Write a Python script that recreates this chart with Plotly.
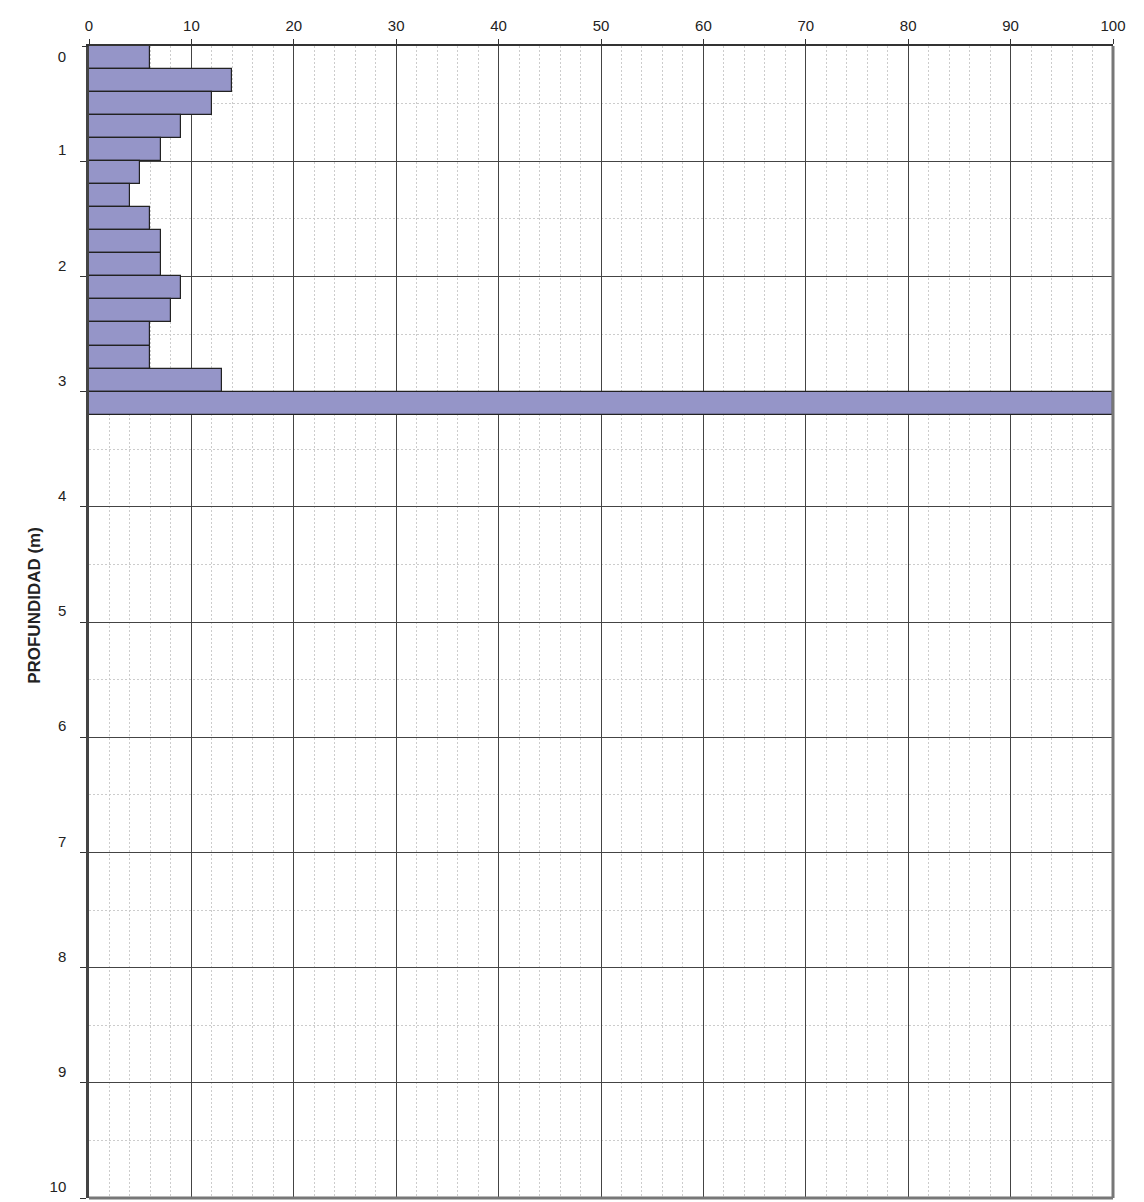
import plotly.graph_objects as go

depth_top = [0.0, 0.2, 0.4, 0.6, 0.8, 1.0, 1.2, 1.4, 1.6, 1.8, 2.0, 2.2, 2.4, 2.6, 2.8, 3.0]
blows = [6, 14, 12, 9, 7, 5, 4, 6, 7, 7, 9, 8, 6, 6, 13, 100]
layer = 0.2
x_ticks = [0, 10, 20, 30, 40, 50, 60, 70, 80, 90, 100]
y_ticks = [1, 2, 3, 4, 5, 6, 7, 8, 9, 10]

mids = [d + layer / 2 for d in depth_top]

fig = go.Figure()
fig.add_trace(go.Bar(
    x=blows, y=mids, width=[layer] * len(blows), orientation="h",
    marker=dict(color="#9595C8", line=dict(color="#222222", width=1.2)),
    showlegend=False, hoverinfo="skip",
))
fig.add_trace(go.Scatter(x=[None], y=[None], yaxis="y2", showlegend=False))

font = dict(family="Liberation Sans, Arial, sans-serif", size=15, color="#222222")
minor_grid = dict(showgrid=True, gridcolor="#cccccc", griddash="2px,2px", gridwidth=1)

fig.update_layout(
    width=1144, height=1202,
    margin=dict(l=89, r=31, t=46, b=4, autoexpand=False),
    paper_bgcolor="white", plot_bgcolor="white",
    bargap=0,
    font=font,
    xaxis=dict(
        side="top", range=[0, 100], tickvals=x_ticks, automargin=False,
        showgrid=True, gridcolor="#444444", gridwidth=1,
        minor=dict(dtick=2, **minor_grid),
        ticks="outside", ticklen=5, tickcolor="#333333",
        showline=True, linecolor="#333333", linewidth=2, mirror=False,
        zeroline=False, tickfont=font, ticklabelstandoff=2,
    ),
    yaxis=dict(
        range=[10, 0], tickvals=y_ticks, ticktext=[str(v) for v in y_ticks], automargin=False,
        showgrid=True, gridcolor="#444444", gridwidth=1,
        minor=dict(dtick=0.5, **minor_grid),
        ticks="outside", ticklen=6, tickcolor="#333333",
        showline=True, linecolor="#444444", linewidth=2.5,
        zeroline=False, tickfont=font,
        ticklabelstandoff=11, ticklabelshift=11,
    ),
    yaxis2=dict(
        overlaying="y", side="left", range=[10, 0], tickvals=[0], ticktext=["0"], automargin=False,
        showgrid=False, ticks="outside", ticklen=6, tickcolor="#333333",
        showline=False, zeroline=False,
        tickfont=font, ticklabelstandoff=13, ticklabelshift=-11,
    ),
    shapes=[
        dict(type="line", xref="paper", yref="paper", x0=1, x1=1, y0=0, y1=1,
             line=dict(color="#777777", width=3)),
        dict(type="line", xref="paper", yref="paper", x0=0, x1=1, y0=0, y1=0,
             line=dict(color="#777777", width=3)),
    ],
    annotations=[
        dict(text="<b>PROFUNDIDAD (m)</b>", xref="paper", yref="paper",
             x=-54 / 1024, y=0.514, textangle=-90, showarrow=False,
             xanchor="center", yanchor="middle",
             font=dict(family="Liberation Sans, Arial, sans-serif", size=17, color="#222222")),
    ],
)

fig.write_html("out.html", config={"displayModeBar": False},
               post_script="document.body.style.margin='0';document.body.style.overflow='hidden';")
